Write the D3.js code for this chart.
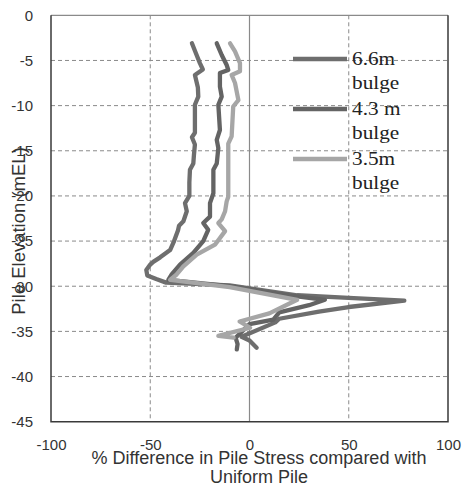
<!DOCTYPE html>
<html lang="en">
  <head>
    <meta charset="utf-8">
    <title>Pile stress</title>
    <style>
      body, html { margin:0; padding:0; background:#fff; }
      svg { display:block; }
      .tick text { font-family:"Liberation Sans", Arial, sans-serif; font-size:15px; fill:#333; }
      .title { font-family:"Liberation Sans", Arial, sans-serif; fill:#333; }
    </style>
    <script src="https://cdn.jsdelivr.net/npm/d3@7"></script>
  </head>
  <body>
    <div id="chart"></div>
<script>
// series: [% difference, elevation mEL]
var bulge66 = [
  [-29,-3.1],[-27,-4.2],[-25,-5.3],[-23.5,-6],[-27.5,-6.6],[-26,-8],[-25.8,-9],[-27.5,-9.9],
  [-27.5,-11.5],[-27.5,-13],[-29,-13.5],[-27.5,-14.3],[-28,-15.5],[-28.3,-16.4],[-30,-17.1],
  [-30.3,-18.5],[-30.3,-20],[-32.5,-20.8],[-31.6,-21.7],[-33.3,-22.8],[-35.5,-23.3],[-36,-23.8],
  [-38,-25],[-40,-26],[-45,-26.8],[-48.5,-27.3],[-50,-27.6],[-52,-28.2],[-51.5,-28.8],[-47,-29.2],
  [-42,-29.6],[-10,-29.9],[24,-31],[50,-31.3],[78,-31.6],[50,-32.3],[35,-32.8],[15,-33.6],
  [13,-34],[-4,-35.6],[0,-36],[3.6,-36.8]
];
var bulge43 = [
  [-16.5,-3.1],[-14,-4.4],[-11.5,-5.5],[-10.7,-6.05],[-14.9,-6.4],[-14.9,-7.9],[-14,-9],[-15.7,-9.9],
  [-14.9,-12.7],[-16.5,-13.8],[-15.7,-14.7],[-16.5,-16.4],[-18.2,-17.1],[-18.2,-19.7],[-19.9,-20.8],
  [-19.9,-22.3],[-23.3,-23],[-20.8,-23.75],[-23.3,-25],[-28.3,-26.3],[-35,-27.6],[-39.2,-28.7],
  [-40.9,-29.3],[-10,-30],[20,-31],[38,-31.5],[30,-32.1],[15,-32.9],[12,-33.7],[0,-34.2],
  [-7,-35.7],[-6,-36.4],[-6.4,-37]
];
var bulge35 = [
  [-9.8,-3.1],[-7.3,-4],[-4.8,-5.3],[-4.8,-6.2],[-9,-6.6],[-7.3,-7.5],[-5.6,-9.4],[-8.2,-10.1],
  [-9,-13.4],[-10.7,-14.2],[-10.7,-17.1],[-10.7,-20.1],[-11.5,-20.6],[-12.3,-21.7],[-14,-22.6],
  [-15.7,-23],[-12.3,-23.9],[-17.4,-25.4],[-26.6,-26.5],[-33.3,-27.8],[-36.7,-28.7],[-40,-29.3],
  [-10,-30.1],[24,-31.5],[10,-33],[-5,-33.9],[0.3,-34.6],[-15.7,-35.5],[-8,-35.7]
];
var seriesNames = [["6.6m", "bulge"], ["4.3 m", "bulge"], ["3.5m", "bulge"]];
var seriesColors = ["#6e6e6e", "#646464", "#a6a6a6"];
var xTicks = [-100, -50, 0, 50, 100];
var yTicks = [0, -5, -10, -15, -20, -25, -30, -35, -40, -45];

var W = 464, H = 488;
var x = d3.scaleLinear().domain([-100, 100]).range([51, 448]);
var y = d3.scaleLinear().domain([0, -45]).range([15.3, 421.7]);

var svg = d3.select('#chart').append('svg').attr('width', W).attr('height', H);

// gridlines
svg.append('g').selectAll('line').data(yTicks.filter(function(d){ return d < 0 && d > -45; }))
  .enter().append('line')
  .attr('x1', x(-100)).attr('x2', x(100))
  .attr('y1', function(d){ return y(d); }).attr('y2', function(d){ return y(d); })
  .attr('stroke', '#8a8a8a').attr('stroke-width', 1).attr('stroke-dasharray', '4,3');
svg.append('g').selectAll('line').data([-50, 50])
  .enter().append('line')
  .attr('y1', y(0)).attr('y2', y(-45))
  .attr('x1', function(d){ return x(d); }).attr('x2', function(d){ return x(d); })
  .attr('stroke', '#8a8a8a').attr('stroke-width', 1).attr('stroke-dasharray', '4,3');

// axis lines through zero
svg.append('line').attr('x1', x(0)).attr('x2', x(0)).attr('y1', y(0)).attr('y2', y(-45))
  .attr('stroke', '#8a8a8a').attr('stroke-width', 1.2);
svg.append('line').attr('x1', x(-100)).attr('x2', x(100)).attr('y1', y(0)).attr('y2', y(0))
  .attr('stroke', '#8a8a8a').attr('stroke-width', 1.2);

// plot border (left, bottom, right)
svg.append('path')
  .attr('d', 'M' + x(-100) + ',' + y(0) + 'V' + y(-45) + 'H' + x(100) + 'V' + y(0))
  .attr('fill', 'none').attr('stroke', '#3a3a3a').attr('stroke-width', 1.5);

// axes (labels only)
svg.append('g').attr('transform', 'translate(' + x(-100) + ',0)')
  .call(d3.axisLeft(y).tickValues(yTicks).tickSize(0).tickPadding(18).tickFormat(function(d){ return String(d); }));
svg.append('g').attr('transform', 'translate(0,' + y(-45) + ')')
  .call(d3.axisBottom(x).tickValues(xTicks).tickSize(0).tickPadding(17.5).tickFormat(function(d){ return String(d); }));
svg.selectAll('.domain').remove();
svg.selectAll('.tick text').attr('font-family', null).attr('font-size', null);

// data lines
var line = d3.line().x(function(d){ return x(d[0]); }).y(function(d){ return y(d[1]); });
[bulge66, bulge43, bulge35].forEach(function(s, i) {
  svg.append('path').datum(s)
    .attr('d', line)
    .attr('fill', 'none')
    .attr('stroke', seriesColors[i])
    .attr('stroke-width', 4.3)
    .attr('stroke-linejoin', 'round')
    .attr('stroke-linecap', 'round');
});

// axis titles
svg.append('text').attr('class', 'title').attr('font-size', 18)
  .attr('text-anchor', 'middle').attr('x', 259).attr('y', 464)
  .text('% Difference in Pile Stress compared with');
svg.append('text').attr('class', 'title').attr('font-size', 18)
  .attr('text-anchor', 'middle').attr('x', 259).attr('y', 483)
  .text('Uniform Pile');
svg.append('text').attr('class', 'title').attr('font-size', 18.5)
  .attr('text-anchor', 'middle')
  .attr('transform', 'translate(25,231) rotate(-90)')
  .text('Pile Elevation (mEL)');

// legend
var legend = svg.append('g');
seriesNames.forEach(function(nm, i) {
  var ly = 59 + i * 50;
  legend.append('line').attr('x1', 293).attr('x2', 347).attr('y1', ly).attr('y2', ly)
    .attr('stroke', seriesColors[i]).attr('stroke-width', 4.3);
  [nm[0], nm[1]].forEach(function(t, k) {
    legend.append('text')
      .attr('font-family', "'Liberation Serif', 'Times New Roman', Times, serif")
      .attr('font-size', 19)
      .attr('fill', '#222')
      .attr('transform', 'translate(352,' + (ly + (k === 0 ? 6 : 29.5)) + ') scale(1.12,1)')
      .text(t);
  });
});
</script>
  </body>
</html>
